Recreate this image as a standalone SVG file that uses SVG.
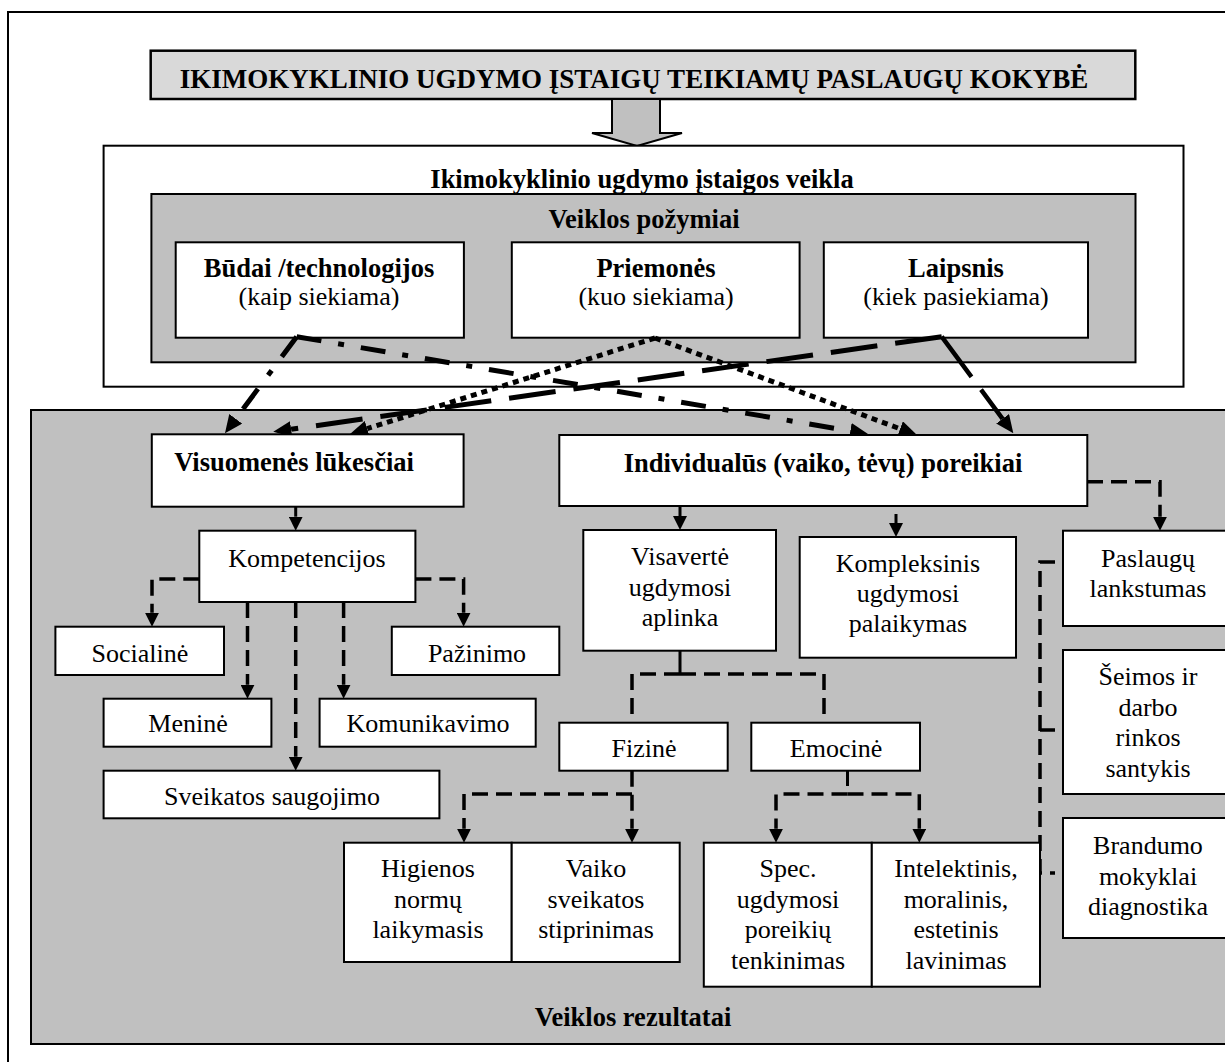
<svg xmlns="http://www.w3.org/2000/svg" width="1225" height="1062" viewBox="0 0 1225 1062">
  <style>
    .frame{fill:none;stroke:#000;stroke-width:2}
    .box{fill:#fff;stroke:#000;stroke-width:2}
    .panel{fill:#c0c0c0;stroke:#000;stroke-width:2}
    .head{fill:#d9d9d9;stroke:#000;stroke-width:2.5}
    text{font-family:"Liberation Serif","Times New Roman",serif;font-size:26px;text-anchor:middle;fill:#000}
    .b{font-weight:bold;font-size:26.5px}
    .ln{fill:none;stroke:#000}
    .dd{stroke-width:5;stroke-dasharray:25 17 6 17}
    .dt{stroke-width:5;stroke-dasharray:6 5}
    .ld{stroke-width:5;stroke-dasharray:47 18}
    .sg{stroke-width:4.5;stroke-dasharray:50 16 200}
    .sl{stroke-width:3}
    .dl{stroke-width:3.5;stroke-dasharray:16 8}
  </style>
  <defs>
    <marker id="big" viewBox="0 0 18 16" refX="0" refY="8" markerWidth="18" markerHeight="16" markerUnits="userSpaceOnUse" orient="auto">
      <path d="M0,0L18,8L0,16z"/>
    </marker>
    <marker id="sm" viewBox="0 0 14 14" refX="0" refY="7" markerWidth="14" markerHeight="14" markerUnits="userSpaceOnUse" orient="auto">
      <path d="M0,0L14,7L0,14z"/>
    </marker>
  </defs>

  <rect width="1225" height="1062" fill="#fff"/>
  <rect class="frame" x="8" y="12" width="1240" height="1070"/>

  <g id="title">
    <rect class="head" x="150.7" y="50.7" width="984.6" height="48.3"/>
    <text class="b" x="634" y="88" style="font-size:27px">IKIMOKYKLINIO UGDYMO ĮSTAIGŲ TEIKIAMŲ PASLAUGŲ KOKYBĖ</text>
  </g>
  <g id="title-arrow">
    <path d="M612,99H660V133H682L637,146L592,133H612Z" fill="#c0c0c0" stroke="#000" stroke-width="2"/>
  </g>

  <g id="veikla">
    <rect class="box" x="103.6" y="145.7" width="1079.9" height="241"/>
    <text class="b" x="642" y="188">Ikimokyklinio ugdymo įstaigos veikla</text>
  </g>
  <g id="pozymiai">
    <rect class="panel" x="151.4" y="194" width="984.1" height="168.3"/>
    <text class="b" x="644" y="228">Veiklos požymiai</text>
  </g>
  <g id="rezultatai">
    <rect class="panel" x="31" y="410" width="1210" height="634"/>
    <text class="b" x="633" y="1026">Veiklos rezultatai</text>
  </g>

  <g id="budai">
    <rect class="box" x="175.7" y="242.3" width="288.2" height="95.4"/>
    <text class="b" x="319" y="277">Būdai /technologijos</text>
    <text x="319" y="305">(kaip siekiama)</text>
  </g>
  <g id="priemones">
    <rect class="box" x="511.8" y="242.3" width="287.8" height="95.4"/>
    <text class="b" x="656" y="277">Priemonės</text>
    <text x="656" y="305">(kuo siekiama)</text>
  </g>
  <g id="laipsnis">
    <rect class="box" x="823.8" y="242.3" width="264.2" height="95.4"/>
    <text class="b" x="956" y="277">Laipsnis</text>
    <text x="956" y="305">(kiek pasiekiama)</text>
  </g>

  <g id="connectors">
    <!-- features of activity -> expectations / needs -->
    <path class="ln dd" d="M296.7,336.7L235.7,418.8" marker-end="url(#big)"/>
    <path class="ln dd" d="M296.7,336.7L850.3,431" marker-end="url(#big)"/>
    <path class="ln dt" d="M655,338L367.2,428.6" marker-end="url(#big)"/>
    <path class="ln dt" d="M655,338L900.1,428.8" marker-end="url(#big)"/>
    <path class="ln ld" d="M941.7,336.7L291.1,429.2" marker-end="url(#big)"/>
    <path class="ln sg" d="M941.7,336.7L1002.6,418.8" marker-end="url(#big)"/>

    <!-- solid drops -->
    <path class="ln sl" d="M295.7,506.7V516.7" marker-end="url(#sm)"/>
    <path class="ln sl" d="M680,506V516" marker-end="url(#sm)"/>
    <path class="ln sl" d="M896,514V523" marker-end="url(#sm)"/>
    <path class="ln sl" d="M680,650.7V674"/>
    <path class="ln sl" d="M847.5,770.7V786"/>

    <!-- dashed branches -->
    <path class="ln dl" d="M1087,481.7H1160V516.7" marker-end="url(#sm)"/>
    <path class="ln dl" d="M199.3,579H152V612.7" marker-end="url(#sm)"/>
    <path class="ln dl" d="M415.4,579H463.6V612.7" marker-end="url(#sm)"/>
    <path class="ln dl" d="M247.5,602V684.7" marker-end="url(#sm)"/>
    <path class="ln dl" d="M295.7,602V756.7" marker-end="url(#sm)"/>
    <path class="ln dl" d="M343.6,602V684.7" marker-end="url(#sm)"/>
    <path class="ln dl" d="M680,674H632V721"/>
    <path class="ln dl" d="M680,674H824V721"/>
    <path class="ln dl" d="M632,770.7V828.7" marker-end="url(#sm)"/>
    <path class="ln dl" d="M632,794H464V828.7" marker-end="url(#sm)"/>
    <path class="ln dl" d="M847.5,794H776V828.7" marker-end="url(#sm)"/>
    <path class="ln dl" d="M847.5,794H919.3V828.7" marker-end="url(#sm)"/>
    <path class="ln dl" d="M1055,562H1040V873H1055"/>
    <path class="ln dl" d="M1040,730H1055"/>
  </g>

  <g id="visuomenes">
    <rect class="box" x="151.8" y="434.3" width="311.8" height="72.4"/>
    <text class="b" x="294" y="471">Visuomenės lūkesčiai</text>
  </g>
  <g id="individualus">
    <rect class="box" x="559.3" y="435" width="528" height="71"/>
    <text class="b" x="823" y="472">Individualūs (vaiko, tėvų) poreikiai</text>
  </g>

  <g id="kompetencijos">
    <rect class="box" x="199.3" y="530.7" width="216.1" height="71.3"/>
    <text x="307" y="567">Kompetencijos</text>
  </g>
  <g id="socialine">
    <rect class="box" x="55.4" y="626.7" width="168.6" height="48.3"/>
    <text x="140" y="662">Socialinė</text>
  </g>
  <g id="pazinimo">
    <rect class="box" x="391.8" y="626.7" width="167.5" height="48.3"/>
    <text x="477" y="662">Pažinimo</text>
  </g>
  <g id="menine">
    <rect class="box" x="103.6" y="698.7" width="167.8" height="48"/>
    <text x="188" y="732">Meninė</text>
  </g>
  <g id="komunikavimo">
    <rect class="box" x="319.6" y="698.7" width="216.1" height="48"/>
    <text x="428" y="732">Komunikavimo</text>
  </g>
  <g id="sveikatos">
    <rect class="box" x="103.6" y="770.7" width="335.8" height="47.6"/>
    <text x="272" y="805">Sveikatos saugojimo</text>
  </g>

  <g id="visaverte">
    <rect class="box" x="583.3" y="530" width="192.7" height="120.7"/>
    <text x="680" y="565">Visavertė<tspan x="680" dy="30.5">ugdymosi</tspan><tspan x="680" dy="30.5">aplinka</tspan></text>
  </g>
  <g id="kompleksinis">
    <rect class="box" x="799.7" y="537" width="216.3" height="120.7"/>
    <text x="908" y="572">Kompleksinis<tspan x="908" dy="30">ugdymosi</tspan><tspan x="908" dy="30">palaikymas</tspan></text>
  </g>
  <g id="fizine">
    <rect class="box" x="559.3" y="722.7" width="168.4" height="48"/>
    <text x="644" y="757">Fizinė</text>
  </g>
  <g id="emocine">
    <rect class="box" x="751.3" y="722.7" width="168.7" height="48"/>
    <text x="836" y="757">Emocinė</text>
  </g>

  <g id="higienos">
    <rect class="box" x="344" y="842.7" width="167.7" height="119.3"/>
    <text x="428" y="877">Higienos<tspan x="428" dy="30.5">normų</tspan><tspan x="428" dy="30.5">laikymasis</tspan></text>
  </g>
  <g id="vaiko">
    <rect class="box" x="511.7" y="842.7" width="168" height="119.3"/>
    <text x="596" y="877">Vaiko<tspan x="596" dy="30.5">sveikatos</tspan><tspan x="596" dy="30.5">stiprinimas</tspan></text>
  </g>
  <g id="spec">
    <rect class="box" x="703.8" y="842.7" width="168" height="144"/>
    <text x="788" y="877">Spec.<tspan x="788" dy="30.5">ugdymosi</tspan><tspan x="788" dy="30.5">poreikių</tspan><tspan x="788" dy="30.5">tenkinimas</tspan></text>
  </g>
  <g id="intelektinis">
    <rect class="box" x="871.8" y="842.7" width="168.2" height="144"/>
    <text x="956" y="877">Intelektinis,<tspan x="956" dy="30.5">moralinis,</tspan><tspan x="956" dy="30.5">estetinis</tspan><tspan x="956" dy="30.5">lavinimas</tspan></text>
  </g>

  <g id="paslaugu">
    <rect class="box" x="1063" y="530.7" width="180" height="95.3"/>
    <text x="1148" y="567">Paslaugų<tspan x="1148" dy="30">lankstumas</tspan></text>
  </g>
  <g id="seimos">
    <rect class="box" x="1063" y="650" width="180" height="144"/>
    <text x="1148" y="685">Šeimos ir<tspan x="1148" dy="30.5">darbo</tspan><tspan x="1148" dy="30.5">rinkos</tspan><tspan x="1148" dy="30.5">santykis</tspan></text>
  </g>
  <g id="brandumo">
    <rect class="box" x="1063" y="818" width="180" height="120"/>
    <text x="1148" y="854">Brandumo<tspan x="1148" dy="30.5">mokyklai</tspan><tspan x="1148" dy="30.5">diagnostika</tspan></text>
  </g>
</svg>
